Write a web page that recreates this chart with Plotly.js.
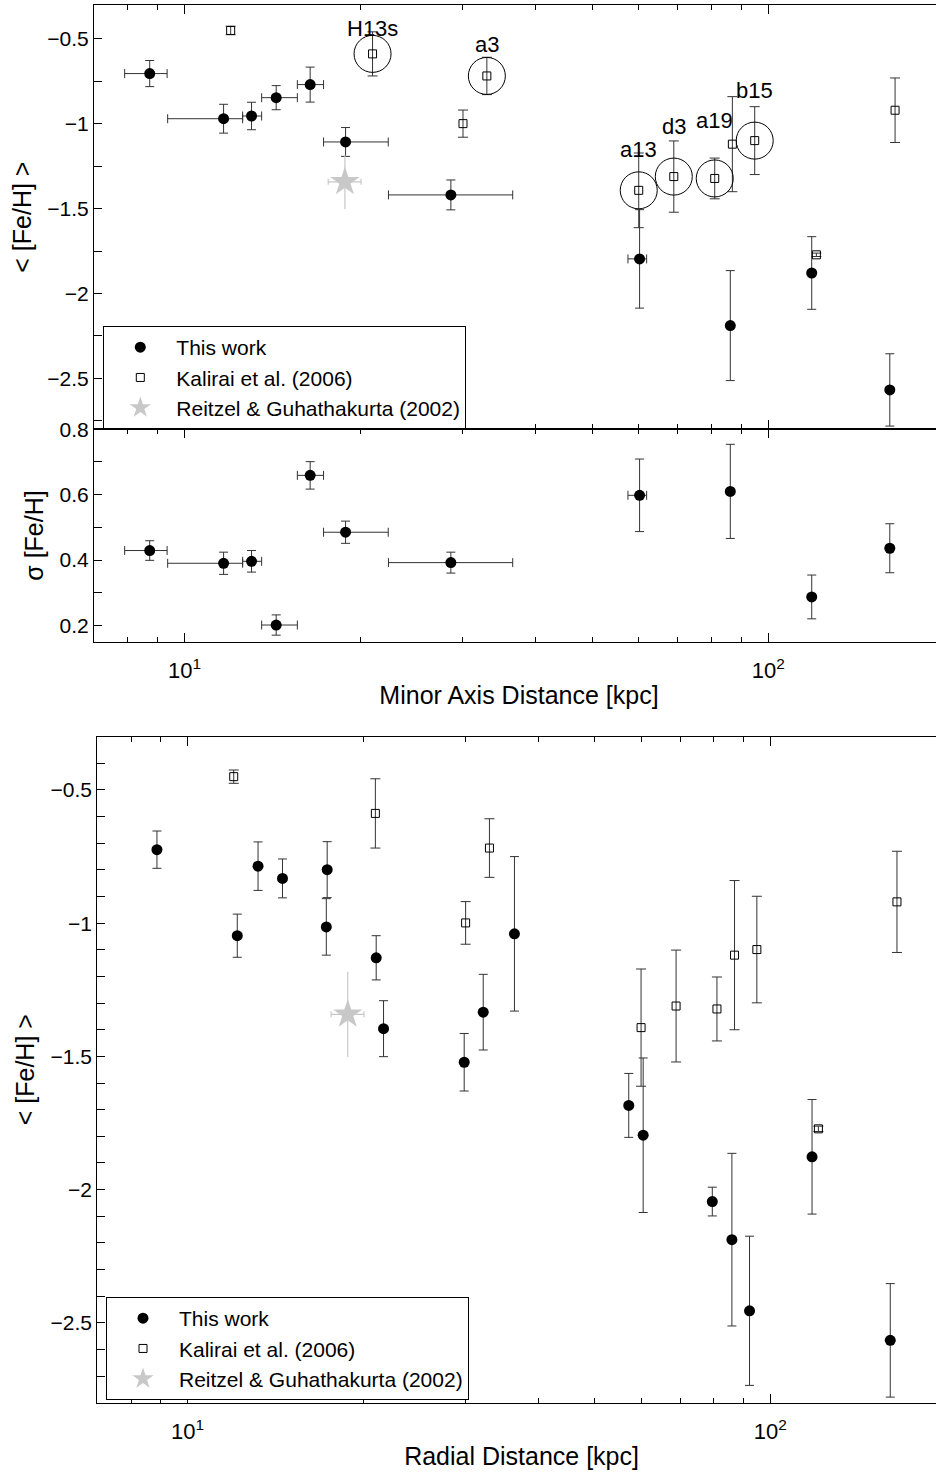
<!DOCTYPE html>
<html><head><meta charset="utf-8">
<script src="https://cdn.plot.ly/plotly-3.0.1.min.js"></script>
<style>html,body{margin:0;padding:0;overflow:hidden;background:#fff}#chart{width:960px;height:1474px}</style>
</head><body><div id="chart"></div>
<script>
// ---- This work: minor-axis fields ----
const minorDist   = [8.72, 11.67, 13.03, 14.36, 16.42, 18.88, 28.6, 60.2, 86.1, 118.7, 161.5];
const minorDistLo = [7.90, 9.36, 12.58, 13.56, 15.61, 17.31, 22.36, 57.5, null, null, null];
const minorDistHi = [9.34, 12.58, 13.56, 15.61, 17.31, 22.34, 36.5, 61.9, null, null, null];
const minorFeH    = [-0.704, -0.970, -0.954, -0.846, -0.769, -1.107, -1.419, -1.796, -2.189, -1.879, -2.568];
const minorFeHErr = [0.077, 0.085, 0.081, 0.071, 0.103, 0.085, 0.088, 0.29, 0.324, 0.214, 0.213];
const minorSigma    = [0.429, 0.390, 0.396, 0.201, 0.659, 0.485, 0.392, 0.598, 0.610, 0.287, 0.436];
const minorSigmaErr = [0.030, 0.034, 0.033, 0.031, 0.042, 0.034, 0.032, 0.111, 0.144, 0.067, 0.075];

// ---- This work: radial distance ----
const radialDist   = [8.86, 12.17, 13.21, 14.55, 17.36, 17.30, 21.07, 21.69, 29.83, 32.16, 36.38, 57.15, 60.5, 79.5, 85.9, 92.1, 117.9, 160.6];
const radialFeH    = [-0.724, -1.047, -0.786, -0.832, -0.799, -1.014, -1.130, -1.396, -1.522, -1.334, -1.04, -1.684, -1.796, -2.045, -2.188, -2.455, -1.877, -2.566];
const radialFeHErr = [0.07, 0.081, 0.091, 0.073, 0.105, 0.106, 0.083, 0.105, 0.108, 0.142, 0.29, 0.12, 0.29, 0.054, 0.324, 0.28, 0.215, 0.213];

// ---- Kalirai et al. (2006) ----
const kalDist   = [12.0, 21.0, 30.0, 32.96, 60.0, 68.9, 80.97, 86.8, 94.8, 120.9, 164.9];
const kalFeH    = [-0.45, -0.588, -0.999, -0.718, -1.392, -1.311, -1.322, -1.12, -1.099, -1.772, -0.92];
const kalFeHErr = [0.025, 0.13, 0.08, 0.11, 0.22, 0.21, 0.12, 0.28, 0.20, 0.01, 0.19];
const kalLabelIdx = [1, 3, 4, 5, 6, 8];
const kalLabels   = ['H13s', 'a3', 'a13', 'd3', 'a19', 'b15'];

// ---- Reitzel & Guhathakurta (2002) ----
const reiDist = [18.83], reiDistLo = [17.63], reiDistHi = [20.07];
const reiFeH = [-1.342], reiFeHErr = [0.16];

// ---- tick labels ----
const majorX = [10, 100];
const majorXText = ['10<sup>1</sup>', '10<sup>2</sup>'];
const minorXVals = [7, 8, 9, 20, 30, 40, 50, 60, 70, 80, 90, 200];

const W = 960, H = 1474;
const FONT = 'Liberation Sans, Arial, Helvetica, sans-serif';
const BLACK = '#000';
const ERRC = '#333';
const GREY = '#c8c8c8';
const labelShift = [25, 31, 41, 50, 58, 50];

const plusArr = (v, hi) => v.map((x, i) => hi[i] == null ? null : hi[i] - x);
const minusArr = (v, lo) => v.map((x, i) => lo[i] == null ? null : x - lo[i]);

function thisWork(x, y, ey, ax, lg, ex) {
  const t = {x, y, type:'scatter', mode:'markers', name:'This work', xaxis:ax[0], yaxis:ax[1],
    legend:lg, showlegend:!!lg,
    marker:{symbol:'circle', size:11, color:BLACK},
    error_y:{type:'data', array:ey, visible:true, color:ERRC, thickness:1, width:4.5}};
  if (ex) t.error_x = ex;
  return t;
}
function kalirai(ax, lg) {
  return {x:kalDist, y:kalFeH, type:'scatter', mode:'markers', name:'Kalirai et al. (2006)',
    xaxis:ax[0], yaxis:ax[1], legend:lg,
    marker:{symbol:'square-open', size:8, color:BLACK, line:{width:1, color:BLACK}},
    error_y:{type:'data', array:kalFeHErr, visible:true, color:ERRC, thickness:1, width:5}};
}
function reitzel(ax, lg) {
  return {x:reiDist, y:reiFeH, type:'scatter', mode:'markers', name:'Reitzel &amp; Guhathakurta (2002)',
    xaxis:ax[0], yaxis:ax[1], legend:lg,
    marker:{symbol:'star', size:22, color:GREY, line:{width:0}},
    error_y:{type:'data', array:reiFeHErr, visible:true, color:GREY, thickness:1.2, width:0},
    error_x:{type:'data', symmetric:false, array:plusArr(reiDist, reiDistHi), arrayminus:minusArr(reiDist, reiDistLo),
      visible:true, color:GREY, thickness:1.2, width:3}};
}

const minorEx = {type:'data', symmetric:false, array:plusArr(minorDist, minorDistHi),
  arrayminus:minusArr(minorDist, minorDistLo), visible:true, color:ERRC, thickness:1, width:4.5};

const data = [
  thisWork(minorDist, minorFeH, minorFeHErr, ['x','y'], 'legend', minorEx),
  kalirai(['x','y'], 'legend'),
  reitzel(['x','y'], 'legend'),
  {x:kalLabelIdx.map(i => kalDist[i]), y:kalLabelIdx.map(i => kalFeH[i]), type:'scatter', mode:'markers',
   xaxis:'x', yaxis:'y', showlegend:false, hoverinfo:'skip',
   marker:{symbol:'circle-open', size:37, color:BLACK, line:{width:1, color:BLACK}}},
  thisWork(minorDist, minorSigma, minorSigmaErr, ['x2','y2'], null, minorEx),
  thisWork(radialDist, radialFeH, radialFeHErr, ['x3','y3'], 'legend2', null),
  kalirai(['x3','y3'], 'legend2'),
  reitzel(['x3','y3'], 'legend2')
];

const px = v => v / W;
const py = v => 1 - v / H;

function xAxis(domain, anchor, labels, title) {
  const a = {type:'log', domain, anchor, range:[Math.log10(7), Math.log10(200)],
    tickmode:'array', tickvals:majorX, ticktext:majorXText, showticklabels:labels,
    ticks:'inside', ticklen:9, tickwidth:1, tickcolor:BLACK, ticklabelstandoff:9,
    minor:{tickmode:'array', tickvals:minorXVals, ticks:'inside', ticklen:5, tickwidth:1, tickcolor:BLACK},
    showline:true, linecolor:BLACK, linewidth:1.1, mirror:'ticks', showgrid:false, zeroline:false,
    tickfont:{family:FONT, size:22, color:BLACK}};
  if (title) a.title = {text:title, font:{family:FONT, size:25, color:BLACK}, standoff:4};
  return a;
}
function yAxis(domain, anchor, range, dtick, tick0, mdtick, title) {
  return {domain, anchor, range, tickmode:'linear', dtick, tick0,
    ticks:'inside', ticklen:8, tickwidth:1, tickcolor:BLACK,
    minor:{dtick:mdtick, tick0, ticks:'inside', ticklen:8, tickwidth:1, tickcolor:BLACK},
    showline:true, linecolor:BLACK, linewidth:1.1, mirror:'ticks', showgrid:false, zeroline:false,
    tickfont:{family:FONT, size:21, color:BLACK},
    title:{text:title, font:{family:FONT, size:25, color:BLACK}, standoff:8}};
}

const annotations = kalLabelIdx.map((i, k) => ({
  x:Math.log10(kalDist[i]), y:kalFeH[i], xref:'x', yref:'y', text:kalLabels[k], showarrow:false,
  yshift:labelShift[k], font:{family:FONT, size:22, color:BLACK}
}));

const legendBase = {bordercolor:BLACK, borderwidth:1, bgcolor:'#fff', xanchor:'left', yanchor:'top',
  font:{family:FONT, size:21, color:BLACK}, itemwidth:62, tracegroupgap:0};

const layout = {
  width:W, height:H, margin:{l:0, r:0, t:0, b:0}, paper_bgcolor:'#fff', plot_bgcolor:'#fff',
  font:{family:FONT, color:BLACK},
  xaxis: xAxis([px(94), px(944)], 'y', false, null),
  yaxis: yAxis([py(429.3), py(5)], 'x', [-2.8, -0.3], 0.5, 0, 0.25, '&lt; [Fe/H] &gt;'),
  xaxis2: xAxis([px(94), px(944)], 'y2', true, 'Minor Axis Distance [kpc]'),
  yaxis2: yAxis([py(641.7), py(429.3)], 'x2', [0.15, 0.8], 0.2, 0, 0.1, 'σ [Fe/H]'),
  xaxis3: xAxis([px(97.3), px(945.8)], 'y3', true, 'Radial Distance [kpc]'),
  yaxis3: yAxis([py(1402.7), py(736.7)], 'x3', [-2.8, -0.3], 0.5, 0, 0.1, '&lt; [Fe/H] &gt;'),
  legend: Object.assign({x:px(103.3), y:py(326)}, legendBase),
  legend2: Object.assign({x:px(106), y:py(1297)}, legendBase),
  annotations,
  showlegend:true
};

Plotly.newPlot('chart', data, layout, {staticPlot:true});
</script></body></html>
